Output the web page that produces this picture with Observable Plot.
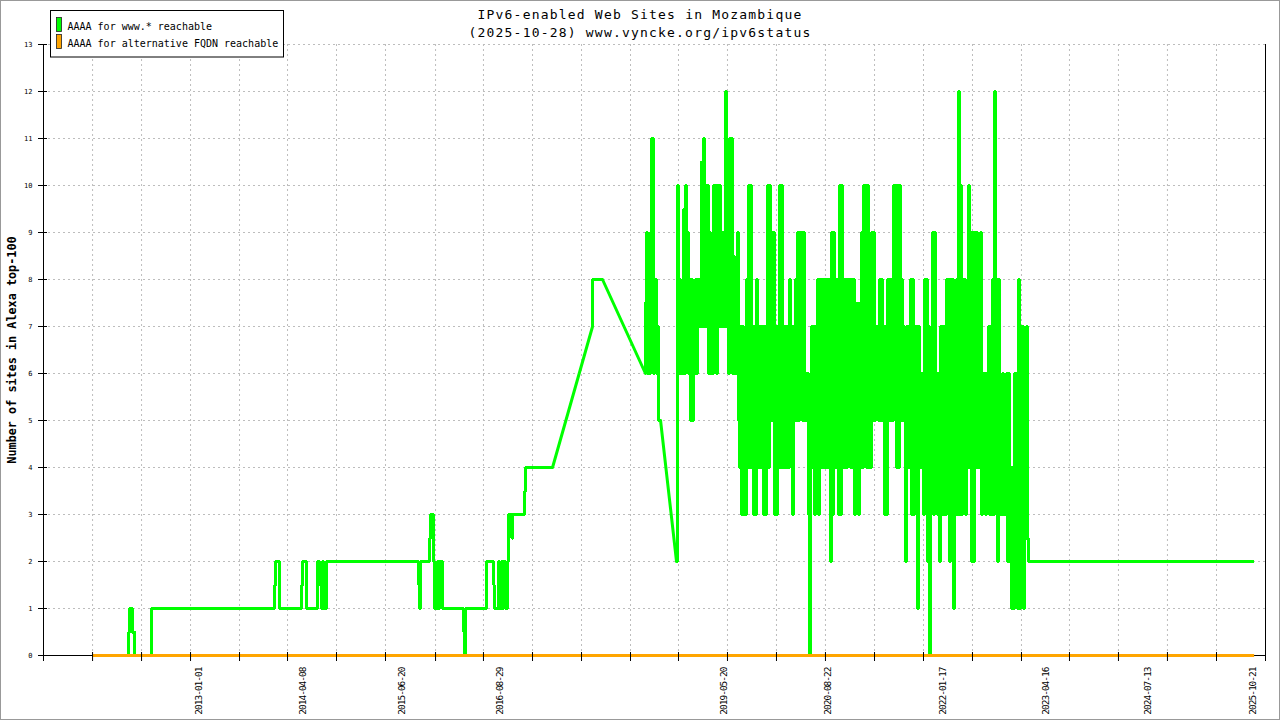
<!DOCTYPE html>
<html><head><meta charset="utf-8">
<script src="https://cdn.jsdelivr.net/npm/d3@7"></script>
<script src="https://cdn.jsdelivr.net/npm/@observablehq/plot@0.6"></script>
<style>
html,body{margin:0;padding:0;background:#fff;}
#chart{position:relative;width:1280px;height:720px;}
</style></head><body><div id="chart"></div>
<script>
// ---- data (x as decimal years, y as number of sites) ----
const wwwT = [
 2011.713, 2012.150, 2012.162, 2012.198, 2012.223, 2012.429, 2013.923, 2013.935, 2013.984, 2014.251,
 2014.263, 2014.312, 2014.445, 2014.470, 2014.494, 2014.506, 2014.518, 2014.555, 2015.672, 2015.684,
 2015.696, 2015.806, 2015.818, 2015.854, 2015.866, 2015.903, 2015.915, 2015.927, 2015.963, 2016.219,
 2016.231, 2016.243, 2016.498, 2016.583, 2016.595, 2016.644, 2016.656, 2016.680, 2016.692, 2016.705,
 2016.729, 2016.753, 2016.765, 2016.802, 2016.814, 2016.960, 2016.972, 2017.300, 2017.300,
 2017.786, 2017.786, 2017.907, 2017.907,
 2018.429, 2018.429, 2018.442, 2018.454, 2018.466, 2018.478, 2018.490, 2018.502, 2018.527, 2018.539,
 2018.563, 2018.575, 2018.587, 2018.612, 2018.612,
 2018.806, 2018.818, 2018.830, 2018.842,
 2018.854, 2018.867, 2018.879, 2018.891, 2018.903, 2018.915, 2018.927, 2018.939, 2018.952, 2018.964,
 2018.976, 2018.988, 2019.000, 2019.012, 2019.024, 2019.036, 2019.049, 2019.061, 2019.073, 2019.085,
 2019.097, 2019.109, 2019.122, 2019.134, 2019.146, 2019.158, 2019.170, 2019.182, 2019.194, 2019.207,
 2019.219, 2019.231, 2019.243, 2019.255, 2019.267, 2019.279, 2019.292, 2019.304, 2019.316, 2019.328,
 2019.340, 2019.352, 2019.365, 2019.377, 2019.389, 2019.401, 2019.413, 2019.425, 2019.437, 2019.450,
 2019.462, 2019.474, 2019.486, 2019.498, 2019.510, 2019.522, 2019.535, 2019.547, 2019.559, 2019.571,
 2019.583, 2019.595, 2019.607, 2019.620, 2019.632, 2019.644, 2019.656, 2019.668, 2019.680, 2019.692,
 2019.705, 2019.717, 2019.729, 2019.741, 2019.753, 2019.765, 2019.778, 2019.790, 2019.802, 2019.814,
 2019.826, 2019.838, 2019.850, 2019.862, 2019.875, 2019.887, 2019.899, 2019.911, 2019.923, 2019.935,
 2019.948, 2019.960, 2019.972, 2019.984, 2019.996, 2020.008, 2020.020, 2020.033, 2020.045, 2020.057,
 2020.069, 2020.081, 2020.093, 2020.105, 2020.118, 2020.130, 2020.142, 2020.154, 2020.166, 2020.178,
 2020.190, 2020.203, 2020.215, 2020.227, 2020.239, 2020.251, 2020.263, 2020.276, 2020.288, 2020.300,
 2020.312, 2020.324, 2020.336, 2020.348, 2020.360, 2020.373, 2020.385, 2020.397, 2020.409, 2020.421,
 2020.433, 2020.445, 2020.458, 2020.470, 2020.482, 2020.494, 2020.506, 2020.518, 2020.531, 2020.543,
 2020.555, 2020.567, 2020.579, 2020.591, 2020.603, 2020.616, 2020.628, 2020.640, 2020.652, 2020.664,
 2020.676, 2020.688, 2020.701, 2020.713, 2020.725, 2020.737, 2020.749, 2020.761, 2020.773, 2020.786,
 2020.798, 2020.810, 2020.822, 2020.834, 2020.846, 2020.858, 2020.871, 2020.883, 2020.895, 2020.907,
 2020.919, 2020.931, 2020.943, 2020.956, 2020.968, 2020.980, 2020.992, 2021.004, 2021.016, 2021.029,
 2021.041, 2021.053, 2021.065, 2021.077, 2021.089, 2021.101, 2021.114, 2021.126, 2021.138, 2021.150,
 2021.162, 2021.174, 2021.186, 2021.199, 2021.211, 2021.223, 2021.235, 2021.247, 2021.259, 2021.271,
 2021.284, 2021.296, 2021.308, 2021.320, 2021.332, 2021.344, 2021.356, 2021.369, 2021.381, 2021.393,
 2021.405, 2021.417, 2021.429, 2021.441, 2021.454, 2021.466, 2021.478, 2021.490, 2021.502, 2021.514,
 2021.527, 2021.539, 2021.551, 2021.563, 2021.575, 2021.587, 2021.599, 2021.612, 2021.624, 2021.636,
 2021.648, 2021.660, 2021.672, 2021.684, 2021.697, 2021.709, 2021.721, 2021.733, 2021.745, 2021.757,
 2021.769, 2021.782, 2021.794, 2021.806, 2021.818, 2021.830, 2021.842, 2021.854, 2021.867, 2021.879,
 2021.891, 2021.903, 2021.915, 2021.927, 2021.939, 2021.952, 2021.964, 2021.976, 2021.988, 2022.000,
 2022.012, 2022.024, 2022.037, 2022.049, 2022.061, 2022.073, 2022.085, 2022.097, 2022.109, 2022.122,
 2022.134, 2022.146, 2022.158, 2022.170, 2022.182, 2022.194, 2022.207, 2022.219, 2022.231, 2022.243,
 2022.255, 2022.267, 2022.279, 2022.292, 2022.304, 2022.316, 2022.328, 2022.340, 2022.352, 2022.364,
 2022.377, 2022.389, 2022.401, 2022.413, 2022.425, 2022.437, 2022.449, 2022.462, 2022.474, 2022.486,
 2022.498, 2022.510, 2022.522, 2022.534, 2022.547, 2022.559, 2022.571, 2022.583, 2022.595, 2022.607,
 2022.620, 2022.632, 2022.644, 2022.656, 2022.668, 2022.680, 2022.692, 2022.705, 2022.717, 2022.729,
 2022.741, 2022.753, 2022.765, 2022.777, 2022.790, 2022.802, 2022.814, 2022.826, 2022.838, 2022.850,
 2022.863, 2022.875, 2022.887, 2022.899, 2022.911, 2022.923, 2022.935, 2022.948, 2022.960, 2022.972,
 2022.984, 2022.996, 2023.008, 2023.020, 2023.033, 2023.045, 2023.057, 2023.069, 2023.081, 2025.822
];
const wwwV = [
 0, 0.5, 1, 0.5, 0, 1, 1.5, 2, 1, 1.5,
 2, 1, 2, 1.5, 1, 2, 1, 2, 1.5, 1,
 2, 2.5, 3, 2, 1, 2, 1, 2, 1, 0.5,
 0, 1, 2, 1.5, 1, 2, 1, 2, 1, 2,
 1, 2, 3, 2.5, 3, 3.5, 4, 4, NaN,
 7, 8, 8, NaN,
 6, 7.5, 9, 6, 7, 6, 9, 11, 6, 8,
 6, 7, 5, 5, NaN,
 2, 10, 6, 8,
 6, 7, 6, 9.5, 6, 10, 7, 9, 6, 8,
 5, 8, 5, 7.5, 6, 8, 6, 8, 7, 8,
 7, 10.5, 7, 11, 7, 10, 7, 10, 6, 9,
 6, 7.5, 6, 10, 7, 10, 6, 10, 7, 10,
 7, 9, 7, 9, 7, 12, 7, 10, 6, 11,
 7, 11, 6, 8.5, 6, 7, 6, 9, 5, 4,
 7, 3, 7, 3, 6, 3, 8, 4, 10, 4,
 10, 4, 7, 3, 7, 3, 8, 4, 7, 4,
 7, 4, 7, 3, 7, 3, 6, 10, 4, 10,
 5, 9, 5, 9, 3, 7, 3, 7, 4, 10,
 4, 10, 4, 7, 4, 7, 4, 7, 4, 8,
 5, 7, 3, 7, 5, 8, 5, 9, 5, 9,
 6, 9, 5, 9, 5, 6, 5, 6, 3, 0,
 4, 7, 4, 7, 3, 7, 4, 8, 3, 8,
 4, 8, 4, 8, 4, 8, 4, 8, 4, 8,
 2, 9, 3, 9, 4, 8, 4, 8, 3, 10,
 3, 10, 4, 8, 4, 8, 4, 8, 5, 8,
 4, 8, 4, 8, 3, 7.5, 4, 7.5, 3, 7.5,
 4, 9, 4, 10, 5, 10, 4, 10, 4, 7,
 4, 9, 5, 9, 5, 7, 6, 7, 5, 8,
 5, 8, 5, 7, 3, 7, 3, 8, 5, 8,
 5, 8, 5, 10, 6, 10, 4, 10, 4, 10,
 5, 8, 5, 7, 5, 2, 7, 4, 7, 4,
 8, 3, 8, 3, 7, 4, 7, 1, 7, 4,
 6, 4, 6, 3, 8, 5, 8, 2, 7, 0,
 6, 7, 9, 3, 9, 4, 6, 3, 6, 2,
 7, 3, 7, 3, 7, 3, 8, 4, 8, 2,
 8, 3, 8, 1, 7, 3, 8, 3, 12, 3,
 10, 3, 8, 4, 8, 3, 7, 4, 10, 4,
 9, 2, 9, 2, 9, 4, 9, 4, 8, 4,
 9, 3, 6, 4, 6, 3, 6, 4, 7, 3,
 7, 3, 8, 3, 12, 4, 8, 2, 8, 3,
 5, 3, 6, 3, 5, 3, 6, 2, 6, 2,
 4, 1, 4, 1, 6, 2, 6, 1, 8, 1,
 7, 2, 7, 1, 5, 2.5, 7, 2.5, 2, 2
];
// interpolated stretches of the www.* series (drawn as straight ramps)
const rampFromT = [2017.300, 2017.907, 2018.612];
const rampFromV = [4, 8, 5];
const rampToT   = [2017.786, 2018.429, 2018.806];
const rampToV   = [7, 6, 2];
// alternative FQDN series
const altT = [2011.713, 2025.822];
const altV = [0, 0];
// axes
const yTicks = [0, 1, 2, 3, 4, 5, 6, 7, 8, 9, 10, 11, 12, 13];
const gridYears = [2011.117, 2011.713, 2012.308, 2012.903, 2013.498, 2014.081, 2014.676, 2015.271, 2015.879,
  2016.461, 2017.057, 2017.652, 2018.247, 2018.830, 2019.425, 2020.020, 2020.615, 2021.211, 2021.806,
  2022.401, 2022.996, 2023.579, 2024.174, 2024.769, 2025.365, 2025.960];
const xLabels = ["2013-01-01", "2014-04-08", "2015-06-20", "2016-08-29", "2019-05-20",
  "2020-08-22", "2022-01-17", "2023-04-16", "2024-07-13", "2025-10-21"];
const seriesNames = ["AAAA for www.* reachable", "AAAA for alternative FQDN reachable"];
const seriesColors = ["#00ff00", "#ffa500"];
const titleText = "IPv6-enabled Web Sites in Mozambique";
const subtitleText = "(2025-10-28) www.vyncke.org/ipv6status";
const yLabelText = "Number of sites in Alexa top-100";

// ---- build ----
function decYear(s) {
  const d = Date.parse(s + "T00:00:00Z");
  const y = +s.slice(0, 4);
  const a = Date.UTC(y, 0, 1), b = Date.UTC(y + 1, 0, 1);
  return y + (d - a) / (b - a);
}
const www = wwwT.map((t, i) => ({t, v: wwwV[i]}));
const ramps = rampFromT.map((t, i) => ({t1: t, v1: rampFromV[i], t2: rampToT[i], v2: rampToV[i]}));
const alt = altT.map((t, i) => ({t, v: altV[i]}));
const labels = xLabels.map(s => ({t: decYear(s), s}));
const mono = "'DejaVu Sans Mono', monospace";

const plot = Plot.plot({
  width: 1280, height: 720,
  marginLeft: 43, marginRight: 15, marginTop: 44, marginBottom: 65,
  style: {background: "white", fontFamily: mono, overflow: "visible"},
  x: {type: "linear", domain: [2011.117, 2025.960], label: null},
  y: {domain: [0, 13], label: null},
  marks: [
    Plot.gridX(gridYears, {stroke: "#bdbdbd", strokeOpacity: 1, strokeDasharray: "2,3"}),
    Plot.gridY(yTicks, {stroke: "#bdbdbd", strokeOpacity: 1, strokeDasharray: "2,3"}),
    Plot.frame({anchor: "left", stroke: "black"}),
    Plot.frame({anchor: "right", stroke: "black"}),
    Plot.frame({anchor: "bottom", stroke: "black"}),
    Plot.line(www, {x: "t", y: "v", curve: "step-after", stroke: seriesColors[0], strokeWidth: 3,
      strokeLinejoin: "miter", strokeLinecap: "butt", shapeRendering: "crispEdges"}),
    Plot.link(ramps, {x1: "t1", y1: "v1", x2: "t2", y2: "v2", stroke: seriesColors[0], strokeWidth: 3,
      strokeLinecap: "round"}),
    Plot.line(alt, {x: "t", y: "v", stroke: seriesColors[1], strokeWidth: 3.2, strokeLinecap: "butt"}),
    Plot.axisY(yTicks, {tickSize: 9, dx: 4, tickPadding: 6, fontSize: 7, label: null, tickFormat: d => String(d)}),
    Plot.axisX(gridYears, {tickSize: 9, dy: -3, tickFormat: () => "", label: null}),
    Plot.text(labels, {x: "t", text: "s", frameAnchor: "bottom", rotate: -90, textAnchor: "end",
      lineAnchor: "middle", dy: 12, fontSize: 9.5, fill: "black"})
  ]
});

const svg = d3.select(plot);
svg.selectAll("g[aria-label='text'] text").style("letter-spacing", "-1px");

// outer frame
svg.append("rect").attr("x", 0.5).attr("y", 0.5).attr("width", 1279).attr("height", 719)
  .attr("fill", "none").attr("stroke", "#999");
// title
svg.append("text").attr("x", 640).attr("y", 18.5).attr("text-anchor", "middle")
  .style("font-family", mono).style("font-size", "13px").style("letter-spacing", "1.2px")
  .attr("fill", "black").text(titleText);
svg.append("text").attr("x", 640).attr("y", 37).attr("text-anchor", "middle")
  .style("font-family", mono).style("font-size", "13px").style("letter-spacing", "1.2px")
  .attr("fill", "black").text(subtitleText);
// y label
svg.append("text").attr("transform", "translate(16,350) rotate(-90)").attr("text-anchor", "middle")
  .style("font-family", mono).style("font-size", "11.8px").style("font-weight", "bold")
  .attr("fill", "black").text(yLabelText);
// legend
const lg = svg.append("g");
lg.append("rect").attr("x", 50.5).attr("y", 10.5).attr("width", 233).attr("height", 46.5)
  .attr("fill", "white").attr("stroke", "black");
seriesNames.forEach((name, i) => {
  lg.append("rect").attr("x", 56.5).attr("y", 17.5 + i * 17).attr("width", 5).attr("height", 14)
    .attr("fill", seriesColors[i]).attr("stroke", "#222").attr("stroke-width", 0.8);
  lg.append("text").attr("x", 67.5).attr("y", 29.5 + i * 17).attr("text-anchor", "start")
    .style("font-family", mono).style("font-size", "10px").attr("fill", "black").text(name);
});

document.getElementById("chart").appendChild(plot);
</script>
</body></html>
